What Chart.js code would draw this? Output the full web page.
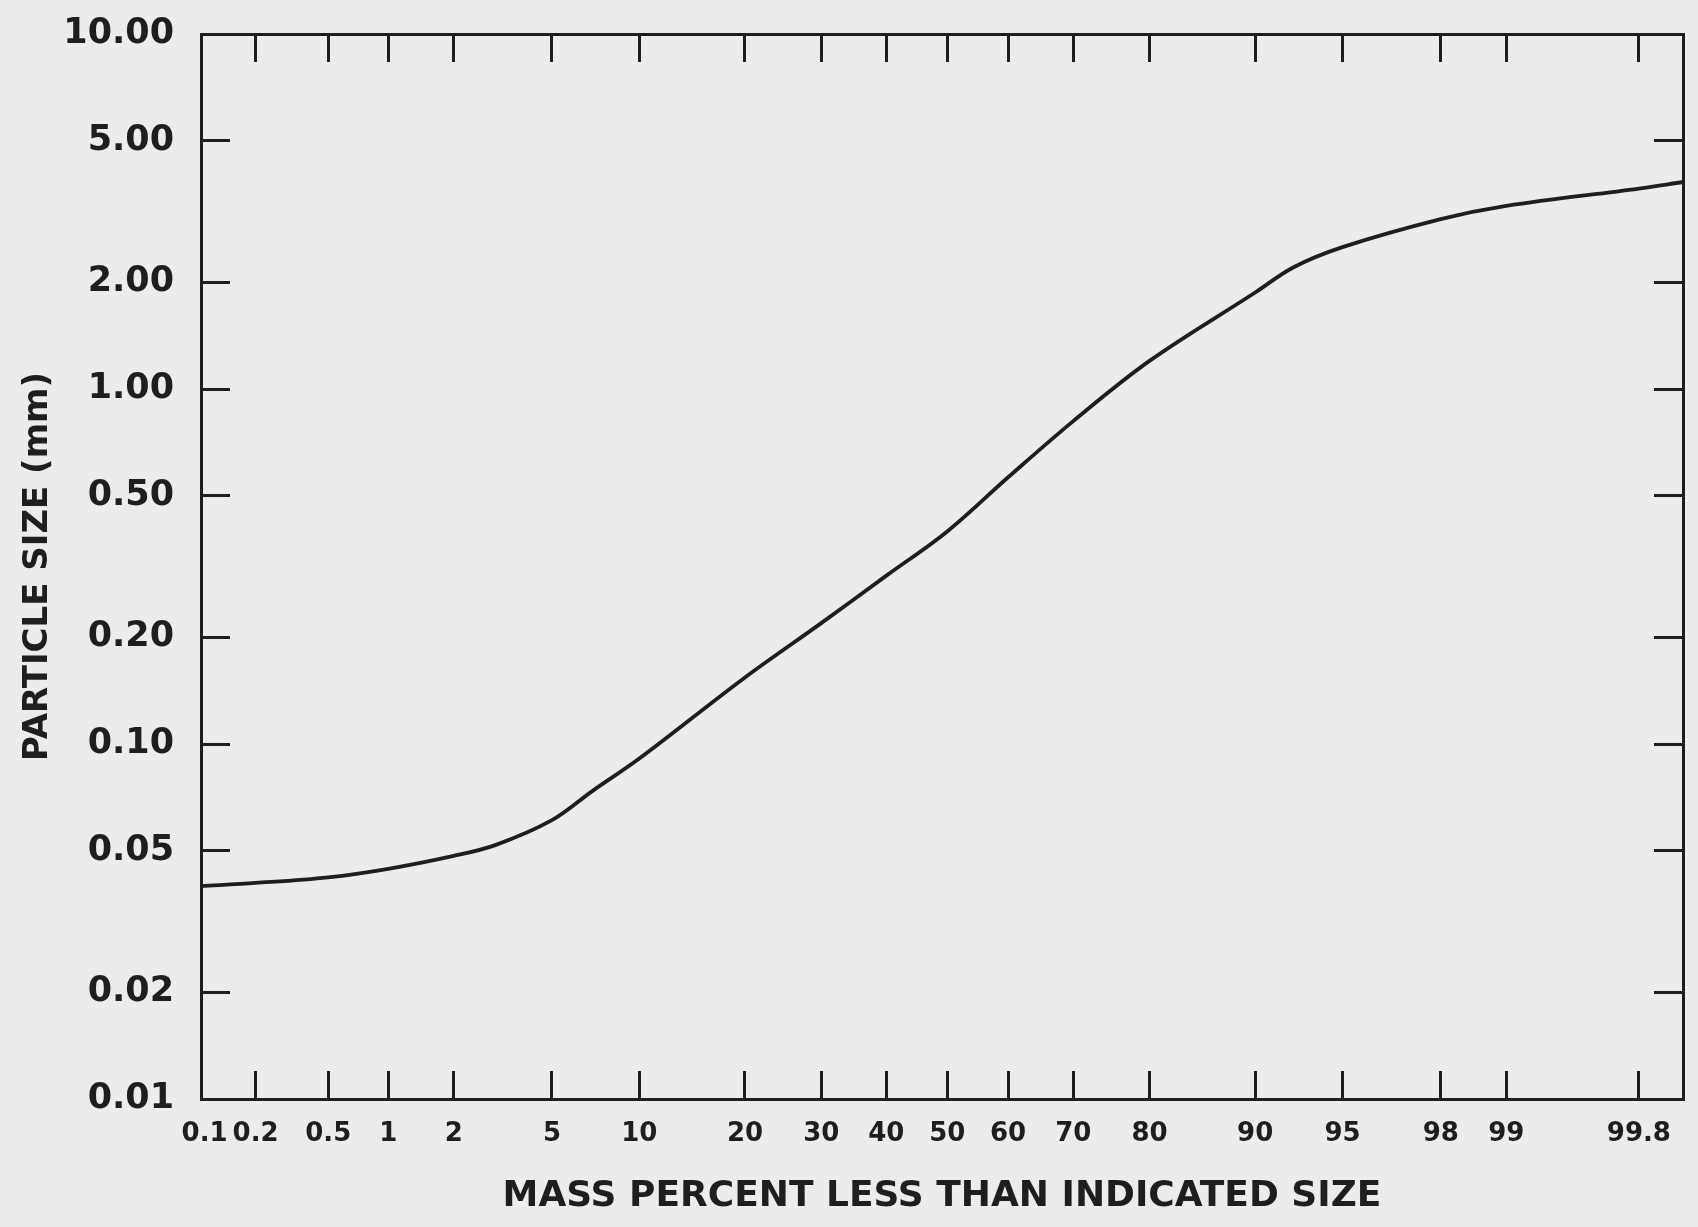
<!DOCTYPE html>
<html>
<head>
<meta charset="utf-8">
<script src="https://cdn.jsdelivr.net/npm/chart.js@4.4.1/dist/chart.umd.min.js"></script>
<style>
  html, body { margin: 0; padding: 0; background: #ececec; }
  #wrap { width: 1698px; height: 1227px; }
</style>
</head>
<body>
<div id="wrap"><canvas id="c" width="1698" height="1227"></canvas></div>
<script>
// ---- data ----
const massPercent = [0.095, 0.2, 0.5, 1, 2, 3, 5, 7, 10, 20, 30, 40, 50, 60, 70, 80, 90, 92.5, 95, 98, 99, 99.8, 99.89];
const particleSize = [0.0398, 0.0406, 0.0421, 0.0445, 0.0484, 0.0519, 0.0610, 0.0738, 0.0910, 0.154, 0.219, 0.298, 0.397, 0.564, 0.812, 1.20, 1.87, 2.20, 2.51, 3.01, 3.28, 3.67, 3.83];
const xTickValues = [0.1, 0.2, 0.5, 1, 2, 5, 10, 20, 30, 40, 50, 60, 70, 80, 90, 95, 98, 99, 99.8];
const yTickValues = [0.01, 0.02, 0.05, 0.1, 0.2, 0.5, 1, 2, 5, 10];
const xTitle = 'MASS PERCENT LESS THAN INDICATED SIZE';
const yTitle = 'PARTICLE SIZE (mm)';

// ---- normal probability scale helpers ----
function probit(p) {
  const a = [-3.969683028665376e+01, 2.209460984245205e+02, -2.759285104469687e+02, 1.383577518672690e+02, -3.066479806614716e+01, 2.506628277459239e+00];
  const b = [-5.447609879822406e+01, 1.615858368580409e+02, -1.556989798598866e+02, 6.680131188771972e+01, -1.328068155288572e+01];
  const c = [-7.784894002430293e-03, -3.223964580411365e-01, -2.400758277161838e+00, -2.549732539343734e+00, 4.374664141464968e+00, 2.938163982698783e+00];
  const d = [7.784695709041462e-03, 3.224671290700398e-01, 2.445134137142996e+00, 3.754408661907416e+00];
  const pl = 0.02425, ph = 1 - pl;
  let q, r;
  if (p < pl) {
    q = Math.sqrt(-2 * Math.log(p));
    return (((((c[0]*q+c[1])*q+c[2])*q+c[3])*q+c[4])*q+c[5]) / ((((d[0]*q+d[1])*q+d[2])*q+d[3])*q+1);
  }
  if (p <= ph) {
    q = p - 0.5; r = q * q;
    return (((((a[0]*r+a[1])*r+a[2])*r+a[3])*r+a[4])*r+a[5])*q / (((((b[0]*r+b[1])*r+b[2])*r+b[3])*r+b[4])*r+1);
  }
  q = Math.sqrt(-2 * Math.log(1 - p));
  return -(((((c[0]*q+c[1])*q+c[2])*q+c[3])*q+c[4])*q+c[5]) / ((((d[0]*q+d[1])*q+d[2])*q+d[3])*q+1);
}
function normCdf(z) {
  const t = 1 / (1 + 0.2316419 * Math.abs(z));
  const dd = 0.3989423 * Math.exp(-z * z / 2);
  const pr = dd * t * (0.3193815 + t * (-0.3565638 + t * (1.781478 + t * (-1.821256 + t * 1.330274))));
  return z > 0 ? 1 - pr : pr;
}

class ProbabilityScale extends Chart.Scale {
  static id = 'probability';
  static defaults = {};
  determineDataLimits() {
    this.min = this.options.min;
    this.max = this.options.max;
  }
  buildTicks() { return []; }
  getLabelForValue(v) { return String(v); }
  configure() {
    super.configure();
    this._zStart = probit(this.min / 100);
    this._zEnd = probit(this.max / 100);
  }
  getPixelForValue(v) {
    const z = probit(v / 100);
    return this.getPixelForDecimal((z - this._zStart) / (this._zEnd - this._zStart));
  }
  getValueForPixel(px) {
    const dec = this.getDecimalForPixel(px);
    return 100 * normCdf(this._zStart + dec * (this._zEnd - this._zStart));
  }
}
Chart.register(ProbabilityScale);

const ink = '#1e1e1e';
const setX = s => { s.ticks = xTickValues.map(v => ({ value: v })); };
const setY = s => { s.ticks = yTickValues.map(v => ({ value: v })); };
const noPad = s => { s.paddingTop = 0; s.paddingBottom = 0; s.paddingLeft = 0; s.paddingRight = 0; };
const gridX = {
  drawOnChartArea: false, drawTicks: true, tickLength: -28, lineWidth: 3,
  color: ctx => (ctx.tick && ctx.tick.value === 0.1) ? 'rgba(0,0,0,0)' : ink
};
const gridY = { drawOnChartArea: false, drawTicks: true, tickLength: -29, lineWidth: 3, color: ink };
const border = { display: true, width: 3, color: ink };

new Chart(document.getElementById('c'), {
  type: 'line',
  data: {
    datasets: [{
      data: massPercent.map((p, i) => ({ x: p, y: particleSize[i] })),
      borderColor: ink,
      borderWidth: 3.8,
      pointRadius: 0,
      tension: 0.35,
      fill: false
    }]
  },
  options: {
    responsive: false,
    animation: false,
    devicePixelRatio: 1,
    layout: { padding: { top: 34, right: 15, bottom: 0, left: 0 } },
    plugins: { legend: { display: false }, tooltip: { enabled: false } },
    scales: {
      x: {
        type: 'probability', axis: 'x', position: 'bottom', min: 0.095, max: 99.89,
        afterBuildTicks: setX,
        afterFit: s => { s.height = 128; noPad(s); },
        ticks: {
          autoSkip: false, maxRotation: 0, minRotation: 0, padding: 48,
          color: ink, font: { family: 'DejaVu Sans', weight: 'bold', size: 26 },
          callback: v => String(v)
        },
        grid: gridX, border: border,
        title: {
          display: true, text: xTitle, color: ink,
          font: { family: 'DejaVu Sans', weight: 'bold', size: 36 },
          padding: { top: 0, bottom: 9 }
        }
      },
      x2: {
        type: 'probability', axis: 'x', position: 'top', min: 0.095, max: 99.89,
        afterBuildTicks: setX,
        afterFit: s => { s.height = 0; noPad(s); },
        ticks: { display: false },
        grid: gridX, border: border,
        title: { display: false }
      },
      y: {
        type: 'logarithmic', axis: 'y', position: 'left', min: 0.01, max: 10,
        afterBuildTicks: setY,
        afterFit: s => { s.width = 201; noPad(s); },
        ticks: {
          autoSkip: false, padding: 56, color: ink,
          font: { family: 'DejaVu Sans', weight: 'bold', size: 35 },
          callback: v => Number(v).toFixed(2)
        },
        grid: gridY, border: border,
        title: {
          display: true, text: yTitle, color: ink,
          font: { family: 'DejaVu Sans', weight: 'bold', size: 34 },
          padding: { top: 18, bottom: 0 }
        }
      },
      y2: {
        type: 'logarithmic', axis: 'y', position: 'right', min: 0.01, max: 10,
        afterBuildTicks: setY,
        afterFit: s => { s.width = 0; noPad(s); },
        ticks: { display: false },
        grid: gridY, border: border,
        title: { display: false }
      }
    }
  }
});
</script>
</body>
</html>
